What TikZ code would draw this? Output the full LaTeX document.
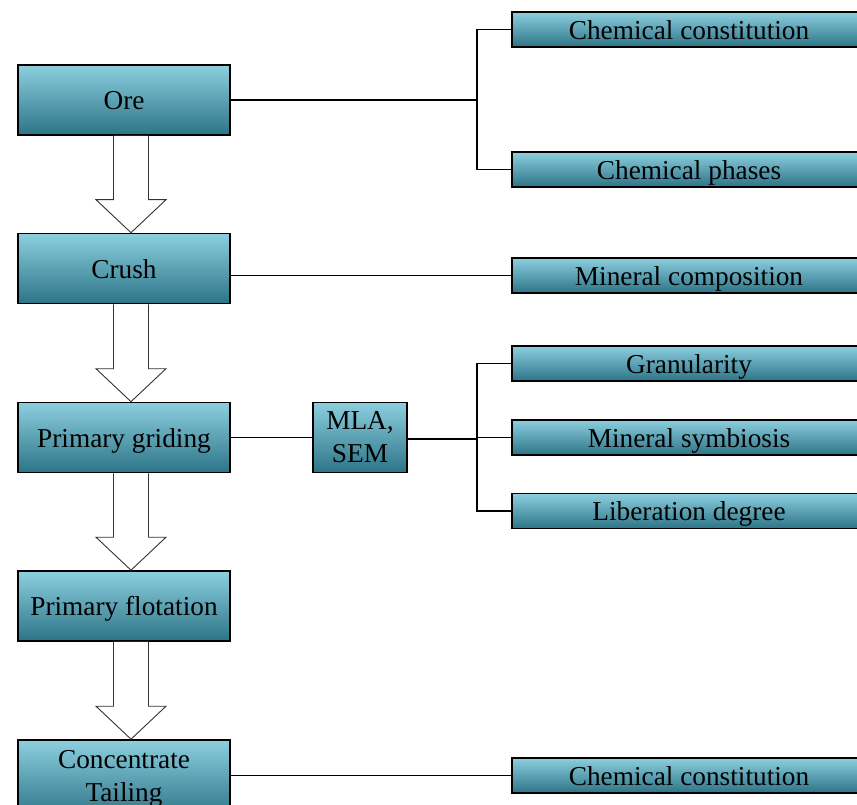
\documentclass[tikz,border=0pt]{standalone}
\usepackage{fontspec}
\setmainfont{Liberation Serif}
\definecolor{topc}{HTML}{8CCFDF}
\definecolor{midc}{HTML}{4AABC5}
\definecolor{botc}{HTML}{2C7487}
\begin{document}
\begin{tikzpicture}[x=1pt,y=-1pt,
  box/.style={draw=black, line width=1.6pt, top color=topc, middle color=midc, bottom color=botc,
    inner sep=0pt, font=\fontsize{27.3}{33}\selectfont, align=center},
  single/.style={text height=21.5pt, text depth=2pt},
  lbox/.style={box, minimum width=212pt, minimum height=70pt},
  rbox/.style={box, single, minimum width=354pt, minimum height=35pt},
  link/.style={draw=black, line width=1.4pt},
  harrow/.style={draw=black!80, line width=0.9pt, fill=white, line join=miter}]
\useasboundingbox (0,0) rectangle (857,805);
\clip (0,0) rectangle (857,805);
% left column
\node[lbox, single] (ore) at (124,100) {Ore};
\node[lbox, single] (crush) at (124,268.5) {Crush};
\node[lbox, single] (pg) at (124,437.5) {Primary griding};
\node[lbox, single] (pf) at (124,606) {Primary flotation};
\node[lbox, minimum height=78pt] (ct) at (124,779) {Concentrate\\Tailing};
% middle
\node[box, minimum width=94pt, minimum height=70pt] (mla) at (360,437.5) {MLA,\\SEM};
% right column
\node[rbox] (cc1) at (689,29.5) {Chemical constitution};
\node[rbox] (cp) at (689,169.5) {Chemical phases};
\node[rbox] (mc) at (689,275.5) {Mineral composition};
\node[rbox] (gr) at (689,363.5) {Granularity};
\node[rbox] (ms) at (689,437.5) {Mineral symbiosis};
\node[rbox] (ld) at (689,511) {Liberation degree};
\node[rbox] (cc2) at (689,775.5) {Chemical constitution};
% connectors
\coordinate (j1) at (477,100);
\draw[link] (ore.east) -- (j1);
\draw[link] (cc1.west) -| (j1);
\draw[link] (cp.west) -| (j1);
\draw[link] (crush.east |- mc.west) -- (mc.west);
\draw[link] (pg.east) -- (mla.west);
\coordinate (j2) at (477,439);
\draw[link] (mla.east |- j2) -- (j2);
\draw[link] (gr.west) -| (j2);
\draw[link] (ms.west) -| (j2);
\draw[link] (ld.west) -| (j2);
\draw[link] (ct.east |- cc2.west) -- (cc2.west);
% hollow arrows
\foreach \a/\b in {ore/crush, crush/pg, pg/pf, pf/ct}{
  \draw[harrow] ([xshift=-10.5pt]\a.south) -- ([xshift=-10.5pt,yshift=33pt]\b.north)
    -- ([xshift=-28pt,yshift=33pt]\b.north) -- ([xshift=7pt]\b.north)
    -- ([xshift=42pt,yshift=33pt]\b.north) -- ([xshift=24.5pt,yshift=33pt]\b.north)
    -- ([xshift=24.5pt]\a.south);
}
\end{tikzpicture}
\end{document}
